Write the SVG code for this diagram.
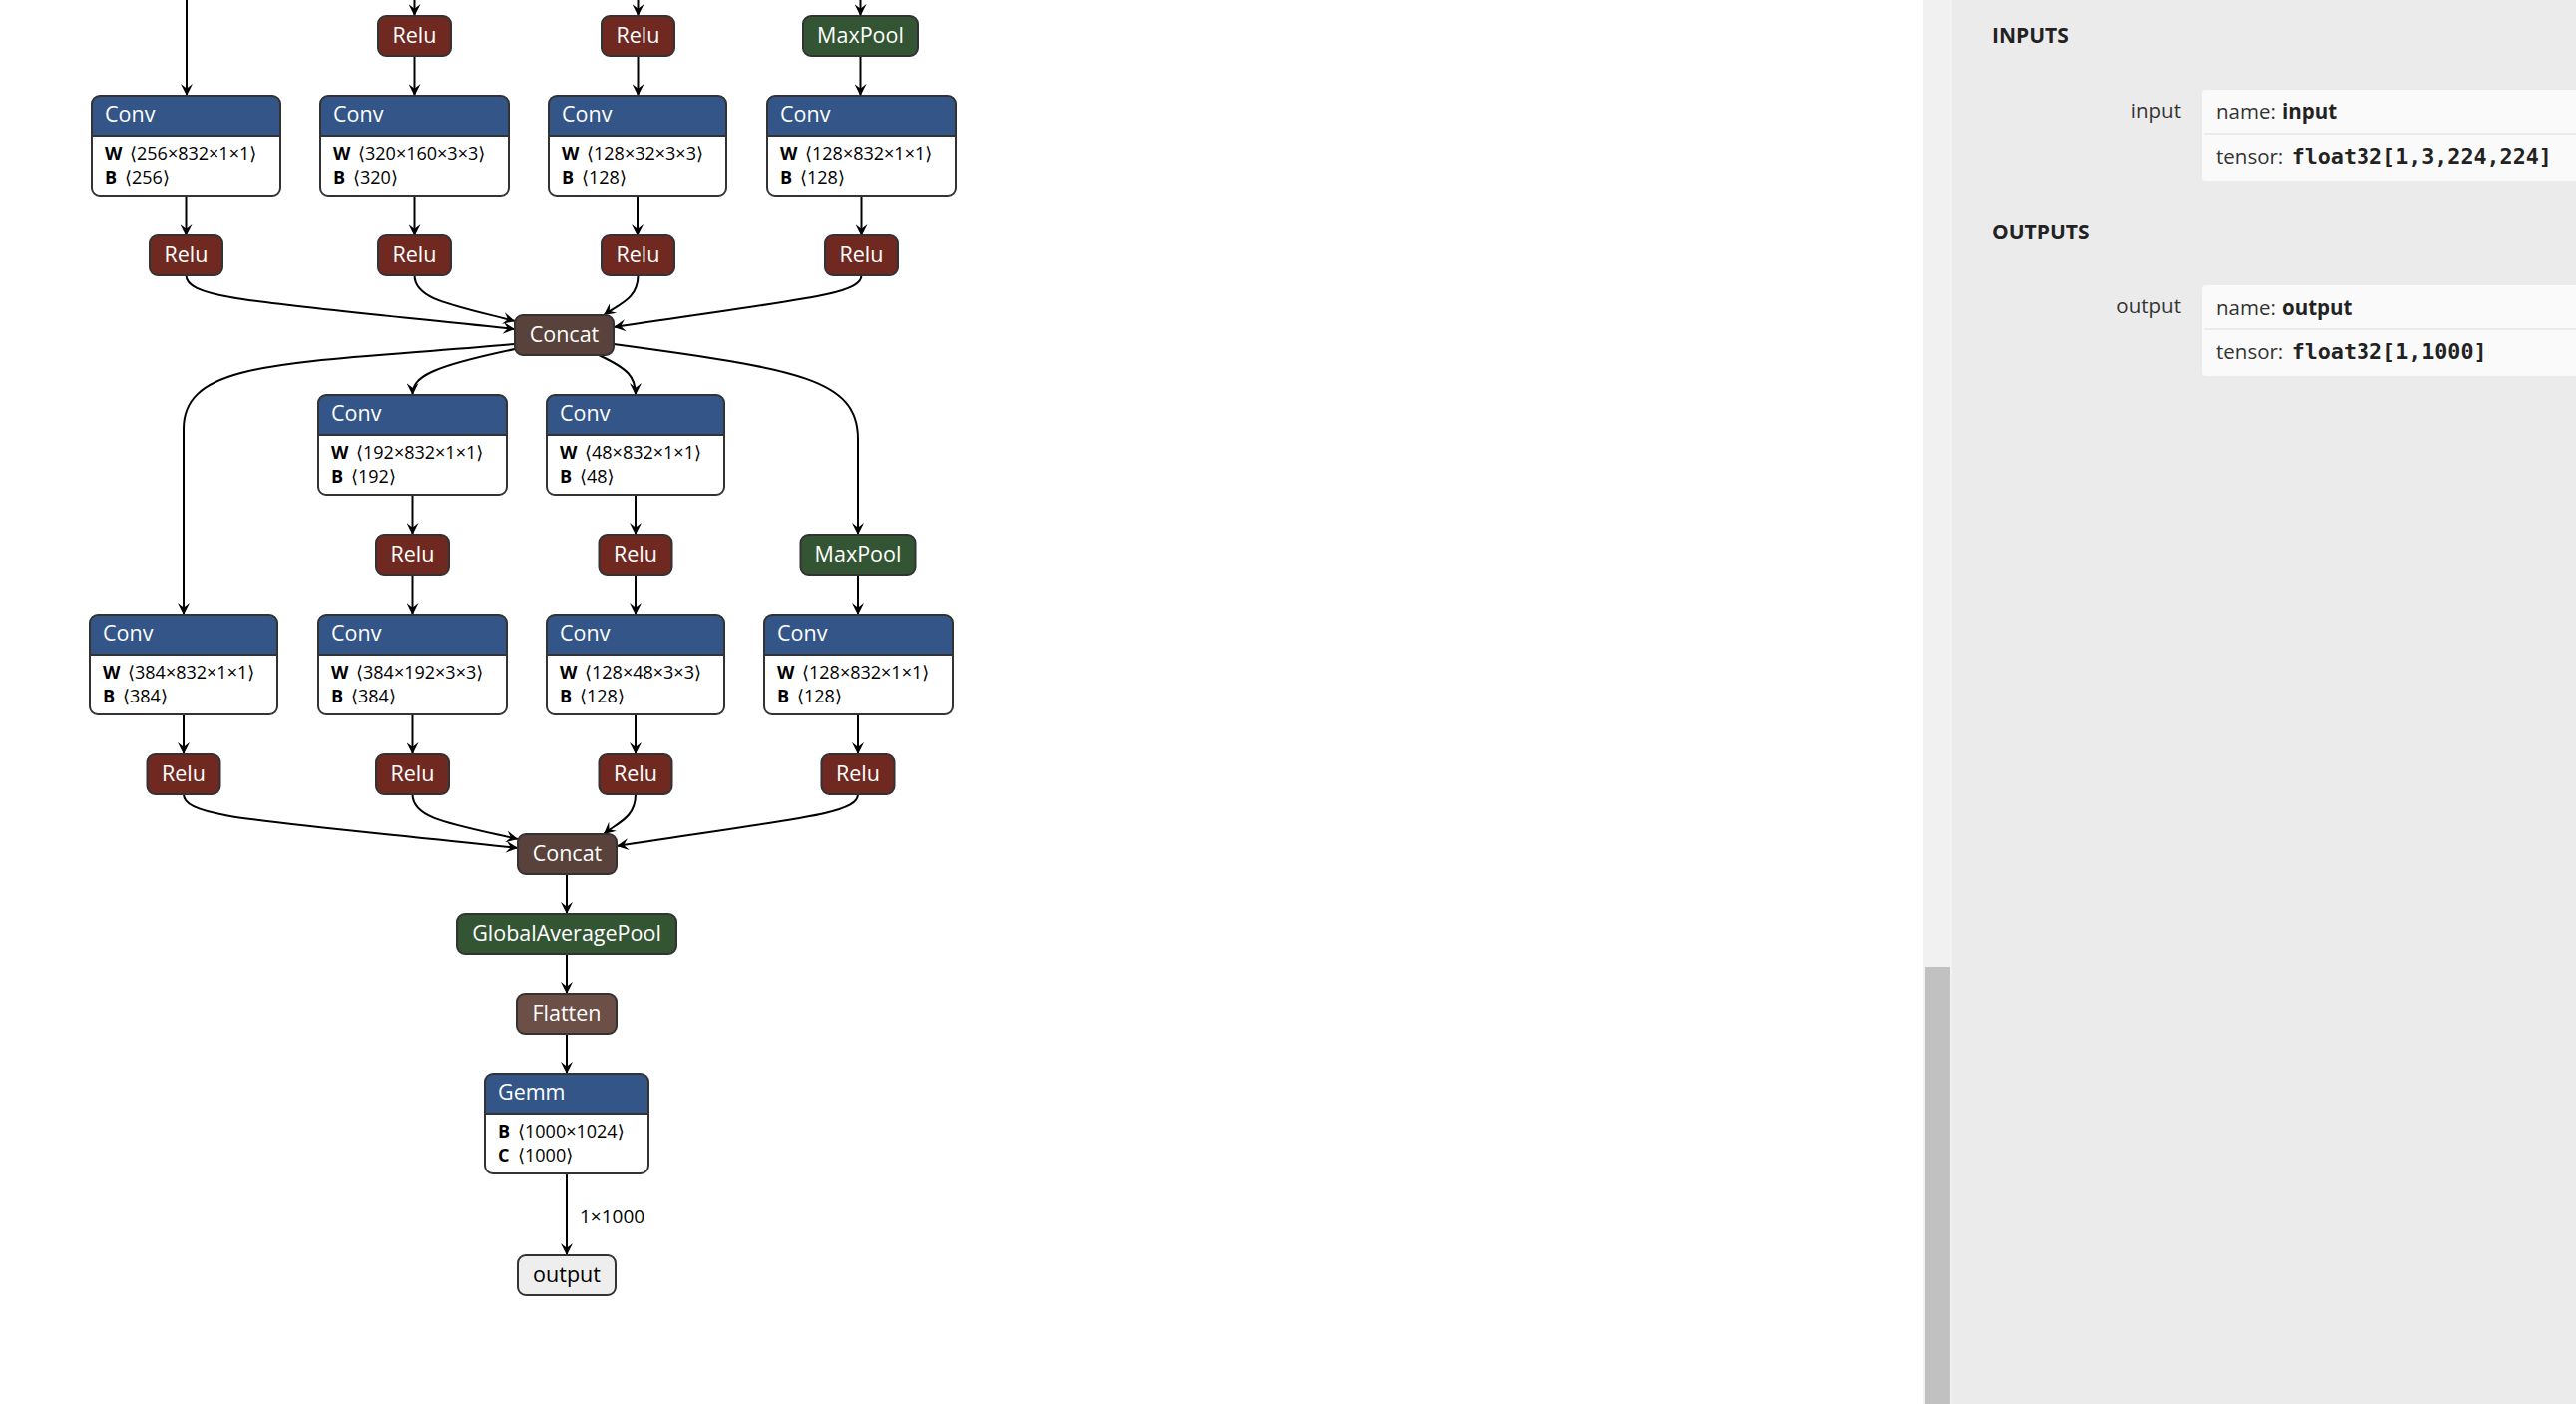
<svg xmlns="http://www.w3.org/2000/svg" width="2582" height="1407" viewBox="0 0 2582 1407">
<defs>
<style>
  .edge{fill:none;stroke:#000;stroke-width:2;marker-end:url(#arrow)}
  .border{fill:none;stroke:#333;stroke-width:2}
  .name{font-family:"Open Sans","DejaVu Sans",sans-serif;font-size:21.5px;fill:#fff}
  .center{text-anchor:middle}
  .attr{font-family:"Open Sans","DejaVu Sans",sans-serif;font-size:18px;fill:#000}
  .key{font-weight:bold}
  .layer{fill:#335588}
  .act{fill:#702921}
  .pool{fill:#335533}
  .tensor{fill:#59423b}
  .shape{fill:#6c4f47}
  .body{fill:#fff}
  .label{font-family:"Open Sans","DejaVu Sans",sans-serif;font-size:19px;fill:#000}
  .side{font-family:"Open Sans","DejaVu Sans",sans-serif;font-size:20.5px;fill:#333}
  .head{font-family:"Open Sans","DejaVu Sans",sans-serif;font-size:21px;font-weight:bold;fill:#222}
  .mono{font-family:"DejaVu Sans Mono","Liberation Mono",monospace;font-weight:bold;font-size:21.7px;fill:#222}
  .card{fill:#fafafa}
</style>
<marker id="arrow" viewBox="0 0 10 10" refX="10" refY="5" markerWidth="12" markerHeight="12" markerUnits="userSpaceOnUse" orient="auto">
  <path d="M0,0 L10,5 L0,10 L4,5 z" fill="#000"/>
</marker>
</defs>

<rect x="0" y="0" width="2582" height="1407" fill="#fff"/>

<!-- connectors -->
<g id="edges">
  <path class="edge" d="M187,0 V96"/>
  <path class="edge" d="M415.5,0 V16"/>
  <path class="edge" d="M639.5,0 V16"/>
  <path class="edge" d="M862.5,0 V16"/>
  <path class="edge" d="M415.5,56 V96"/>
  <path class="edge" d="M639.5,56 V96"/>
  <path class="edge" d="M862.5,56 V96"/>
  <path class="edge" d="M186.5,196 V236"/>
  <path class="edge" d="M415.5,196 V236"/>
  <path class="edge" d="M639,196 V236"/>
  <path class="edge" d="M863.5,196 V236"/>
  <path class="edge" d="M186.5,276 C186.5,300 260,303 516,330"/>
  <path class="edge" d="M415.5,276 C415.5,300 450,305 516,322"/>
  <path class="edge" d="M639.5,276 C639.5,300 620,305 605,316"/>
  <path class="edge" d="M863.5,276 C863.5,296 800,300 615,328"/>
  <path class="edge" d="M516,345 C290,365 184,360 184,430 L184,616"/>
  <path class="edge" d="M516,350 C430,368 413.5,378 413.5,396"/>
  <path class="edge" d="M600,356 C630,370 637,378 637,396"/>
  <path class="edge" d="M615,345 C800,370 860,380 860,440 L860,536"/>
  <path class="edge" d="M413.5,496 V536"/>
  <path class="edge" d="M637,496 V536"/>
  <path class="edge" d="M413.5,576 V616"/>
  <path class="edge" d="M637,576 V616"/>
  <path class="edge" d="M860,576 V616"/>
  <path class="edge" d="M184,716 V756"/>
  <path class="edge" d="M413.5,716 V756"/>
  <path class="edge" d="M637,716 V756"/>
  <path class="edge" d="M860,716 V756"/>
  <path class="edge" d="M184,796 C184,820 260,822 519,850"/>
  <path class="edge" d="M413.5,796 C413.5,820 448,825 519,841"/>
  <path class="edge" d="M637,796 C637,820 618,825 605,836"/>
  <path class="edge" d="M860,796 C860,816 800,820 618,848"/>
  <path class="edge" d="M568,876 V916"/>
  <path class="edge" d="M568,956 V996"/>
  <path class="edge" d="M568,1036 V1076"/>
  <path class="edge" d="M568,1176 V1258"/>
  <text class="label" x="581" y="1226">1×1000</text>
</g>

<!-- top row -->
<g id="relu_1" transform="translate(379,16)">
  <rect class="act" width="73" height="40" rx="8"/><rect class="border" width="73" height="40" rx="8"/>
  <text class="name center" x="36.5" y="27">Relu</text>
</g>
<g id="relu_2" transform="translate(603,16)">
  <rect class="act" width="73" height="40" rx="8"/><rect class="border" width="73" height="40" rx="8"/>
  <text class="name center" x="36.5" y="27">Relu</text>
</g>
<g id="maxpool_1" transform="translate(805,16)">
  <rect class="pool" width="115" height="40" rx="8"/><rect class="border" width="115" height="40" rx="8"/>
  <text class="name center" x="57.5" y="27">MaxPool</text>
</g>

<g id="conv_1" transform="translate(92,96)">
  <rect class="body" width="189" height="100" rx="8"/>
  <path class="layer" d="M0,40 V8 Q0,0 8,0 H181 Q189,0 189,8 V40 Z"/>
  <line x1="0" y1="40" x2="189" y2="40" stroke="#333" stroke-width="2"/>
  <rect class="border" width="189" height="100" rx="8"/>
  <text class="name" x="13" y="26">Conv</text>
  <text class="attr" x="13" y="64"><tspan class="key">W</tspan><tspan x="38">⟨256×832×1×1⟩</tspan></text>
  <text class="attr" x="13" y="88"><tspan class="key">B</tspan><tspan x="33">⟨256⟩</tspan></text>
</g>
<g id="conv_2" transform="translate(321,96)">
  <rect class="body" width="189" height="100" rx="8"/>
  <path class="layer" d="M0,40 V8 Q0,0 8,0 H181 Q189,0 189,8 V40 Z"/>
  <line x1="0" y1="40" x2="189" y2="40" stroke="#333" stroke-width="2"/>
  <rect class="border" width="189" height="100" rx="8"/>
  <text class="name" x="13" y="26">Conv</text>
  <text class="attr" x="13" y="64"><tspan class="key">W</tspan><tspan x="38">⟨320×160×3×3⟩</tspan></text>
  <text class="attr" x="13" y="88"><tspan class="key">B</tspan><tspan x="33">⟨320⟩</tspan></text>
</g>
<g id="conv_3" transform="translate(550,96)">
  <rect class="body" width="178" height="100" rx="8"/>
  <path class="layer" d="M0,40 V8 Q0,0 8,0 H170 Q178,0 178,8 V40 Z"/>
  <line x1="0" y1="40" x2="178" y2="40" stroke="#333" stroke-width="2"/>
  <rect class="border" width="178" height="100" rx="8"/>
  <text class="name" x="13" y="26">Conv</text>
  <text class="attr" x="13" y="64"><tspan class="key">W</tspan><tspan x="38">⟨128×32×3×3⟩</tspan></text>
  <text class="attr" x="13" y="88"><tspan class="key">B</tspan><tspan x="33">⟨128⟩</tspan></text>
</g>
<g id="conv_4" transform="translate(769,96)">
  <rect class="body" width="189" height="100" rx="8"/>
  <path class="layer" d="M0,40 V8 Q0,0 8,0 H181 Q189,0 189,8 V40 Z"/>
  <line x1="0" y1="40" x2="189" y2="40" stroke="#333" stroke-width="2"/>
  <rect class="border" width="189" height="100" rx="8"/>
  <text class="name" x="13" y="26">Conv</text>
  <text class="attr" x="13" y="64"><tspan class="key">W</tspan><tspan x="38">⟨128×832×1×1⟩</tspan></text>
  <text class="attr" x="13" y="88"><tspan class="key">B</tspan><tspan x="33">⟨128⟩</tspan></text>
</g>

<g id="relu_3" transform="translate(150,236)">
  <rect class="act" width="73" height="40" rx="8"/><rect class="border" width="73" height="40" rx="8"/>
  <text class="name center" x="36.5" y="27">Relu</text>
</g>
<g id="relu_4" transform="translate(379,236)">
  <rect class="act" width="73" height="40" rx="8"/><rect class="border" width="73" height="40" rx="8"/>
  <text class="name center" x="36.5" y="27">Relu</text>
</g>
<g id="relu_5" transform="translate(603,236)">
  <rect class="act" width="73" height="40" rx="8"/><rect class="border" width="73" height="40" rx="8"/>
  <text class="name center" x="36.5" y="27">Relu</text>
</g>
<g id="relu_6" transform="translate(827,236)">
  <rect class="act" width="73" height="40" rx="8"/><rect class="border" width="73" height="40" rx="8"/>
  <text class="name center" x="36.5" y="27">Relu</text>
</g>

<g id="concat_1" transform="translate(516,316)">
  <rect class="tensor" width="99" height="40" rx="8"/><rect class="border" width="99" height="40" rx="8"/>
  <text class="name center" x="49.5" y="27">Concat</text>
</g>

<!-- middle block -->
<g id="conv_5" transform="translate(319,396)">
  <rect class="body" width="189" height="100" rx="8"/>
  <path class="layer" d="M0,40 V8 Q0,0 8,0 H181 Q189,0 189,8 V40 Z"/>
  <line x1="0" y1="40" x2="189" y2="40" stroke="#333" stroke-width="2"/>
  <rect class="border" width="189" height="100" rx="8"/>
  <text class="name" x="13" y="26">Conv</text>
  <text class="attr" x="13" y="64"><tspan class="key">W</tspan><tspan x="38">⟨192×832×1×1⟩</tspan></text>
  <text class="attr" x="13" y="88"><tspan class="key">B</tspan><tspan x="33">⟨192⟩</tspan></text>
</g>
<g id="conv_6" transform="translate(548,396)">
  <rect class="body" width="178" height="100" rx="8"/>
  <path class="layer" d="M0,40 V8 Q0,0 8,0 H170 Q178,0 178,8 V40 Z"/>
  <line x1="0" y1="40" x2="178" y2="40" stroke="#333" stroke-width="2"/>
  <rect class="border" width="178" height="100" rx="8"/>
  <text class="name" x="13" y="26">Conv</text>
  <text class="attr" x="13" y="64"><tspan class="key">W</tspan><tspan x="38">⟨48×832×1×1⟩</tspan></text>
  <text class="attr" x="13" y="88"><tspan class="key">B</tspan><tspan x="33">⟨48⟩</tspan></text>
</g>
<g id="relu_7" transform="translate(377,536)">
  <rect class="act" width="73" height="40" rx="8"/><rect class="border" width="73" height="40" rx="8"/>
  <text class="name center" x="36.5" y="27">Relu</text>
</g>
<g id="relu_8" transform="translate(600.5,536)">
  <rect class="act" width="73" height="40" rx="8"/><rect class="border" width="73" height="40" rx="8"/>
  <text class="name center" x="36.5" y="27">Relu</text>
</g>
<g id="maxpool_2" transform="translate(802.5,536)">
  <rect class="pool" width="115" height="40" rx="8"/><rect class="border" width="115" height="40" rx="8"/>
  <text class="name center" x="57.5" y="27">MaxPool</text>
</g>

<g id="conv_7" transform="translate(90,616)">
  <rect class="body" width="188" height="100" rx="8"/>
  <path class="layer" d="M0,40 V8 Q0,0 8,0 H180 Q188,0 188,8 V40 Z"/>
  <line x1="0" y1="40" x2="188" y2="40" stroke="#333" stroke-width="2"/>
  <rect class="border" width="188" height="100" rx="8"/>
  <text class="name" x="13" y="26">Conv</text>
  <text class="attr" x="13" y="64"><tspan class="key">W</tspan><tspan x="38">⟨384×832×1×1⟩</tspan></text>
  <text class="attr" x="13" y="88"><tspan class="key">B</tspan><tspan x="33">⟨384⟩</tspan></text>
</g>
<g id="conv_8" transform="translate(319,616)">
  <rect class="body" width="189" height="100" rx="8"/>
  <path class="layer" d="M0,40 V8 Q0,0 8,0 H181 Q189,0 189,8 V40 Z"/>
  <line x1="0" y1="40" x2="189" y2="40" stroke="#333" stroke-width="2"/>
  <rect class="border" width="189" height="100" rx="8"/>
  <text class="name" x="13" y="26">Conv</text>
  <text class="attr" x="13" y="64"><tspan class="key">W</tspan><tspan x="38">⟨384×192×3×3⟩</tspan></text>
  <text class="attr" x="13" y="88"><tspan class="key">B</tspan><tspan x="33">⟨384⟩</tspan></text>
</g>
<g id="conv_9" transform="translate(548,616)">
  <rect class="body" width="178" height="100" rx="8"/>
  <path class="layer" d="M0,40 V8 Q0,0 8,0 H170 Q178,0 178,8 V40 Z"/>
  <line x1="0" y1="40" x2="178" y2="40" stroke="#333" stroke-width="2"/>
  <rect class="border" width="178" height="100" rx="8"/>
  <text class="name" x="13" y="26">Conv</text>
  <text class="attr" x="13" y="64"><tspan class="key">W</tspan><tspan x="38">⟨128×48×3×3⟩</tspan></text>
  <text class="attr" x="13" y="88"><tspan class="key">B</tspan><tspan x="33">⟨128⟩</tspan></text>
</g>
<g id="conv_10" transform="translate(766,616)">
  <rect class="body" width="189" height="100" rx="8"/>
  <path class="layer" d="M0,40 V8 Q0,0 8,0 H181 Q189,0 189,8 V40 Z"/>
  <line x1="0" y1="40" x2="189" y2="40" stroke="#333" stroke-width="2"/>
  <rect class="border" width="189" height="100" rx="8"/>
  <text class="name" x="13" y="26">Conv</text>
  <text class="attr" x="13" y="64"><tspan class="key">W</tspan><tspan x="38">⟨128×832×1×1⟩</tspan></text>
  <text class="attr" x="13" y="88"><tspan class="key">B</tspan><tspan x="33">⟨128⟩</tspan></text>
</g>

<g id="relu_9" transform="translate(147.5,756)">
  <rect class="act" width="73" height="40" rx="8"/><rect class="border" width="73" height="40" rx="8"/>
  <text class="name center" x="36.5" y="27">Relu</text>
</g>
<g id="relu_10" transform="translate(377,756)">
  <rect class="act" width="73" height="40" rx="8"/><rect class="border" width="73" height="40" rx="8"/>
  <text class="name center" x="36.5" y="27">Relu</text>
</g>
<g id="relu_11" transform="translate(600.5,756)">
  <rect class="act" width="73" height="40" rx="8"/><rect class="border" width="73" height="40" rx="8"/>
  <text class="name center" x="36.5" y="27">Relu</text>
</g>
<g id="relu_12" transform="translate(823.5,756)">
  <rect class="act" width="73" height="40" rx="8"/><rect class="border" width="73" height="40" rx="8"/>
  <text class="name center" x="36.5" y="27">Relu</text>
</g>

<!-- head -->
<g id="concat_2" transform="translate(519,836)">
  <rect class="tensor" width="99" height="40" rx="8"/><rect class="border" width="99" height="40" rx="8"/>
  <text class="name center" x="49.5" y="27">Concat</text>
</g>
<g id="global_average_pool" transform="translate(458,916)">
  <rect class="pool" width="220" height="40" rx="8"/><rect class="border" width="220" height="40" rx="8"/>
  <text class="name center" x="110" y="27">GlobalAveragePool</text>
</g>
<g id="flatten" transform="translate(518,996)">
  <rect class="shape" width="100" height="40" rx="8"/><rect class="border" width="100" height="40" rx="8"/>
  <text class="name center" x="50" y="27">Flatten</text>
</g>
<g id="gemm" transform="translate(486,1076)">
  <rect class="body" width="164" height="100" rx="8"/>
  <path class="layer" d="M0,40 V8 Q0,0 8,0 H156 Q164,0 164,8 V40 Z"/>
  <line x1="0" y1="40" x2="164" y2="40" stroke="#333" stroke-width="2"/>
  <rect class="border" width="164" height="100" rx="8"/>
  <text class="name" x="13" y="26">Gemm</text>
  <text class="attr" x="13" y="64"><tspan class="key">B</tspan><tspan x="33">⟨1000×1024⟩</tspan></text>
  <text class="attr" x="13" y="88"><tspan class="key">C</tspan><tspan x="33">⟨1000⟩</tspan></text>
</g>
<g id="output" transform="translate(519,1258)">
  <rect width="98" height="40" rx="8" fill="#eee"/><rect class="border" width="98" height="40" rx="8"/>
  <text class="name center" x="49" y="27" style="fill:#000">output</text>
</g>

<!-- properties sidebar -->
<g id="sidebar">
  <rect x="1927" y="0" width="30" height="1407" fill="#f1f1f1"/>
  <rect x="1929" y="969" width="26" height="438" fill="#c1c1c1"/>
  <rect x="1957" y="0" width="625" height="1407" fill="#ebebeb"/>

  <text class="head" x="1997" y="43">INPUTS</text>
  <text class="side" x="2186" y="118" text-anchor="end">input</text>
  <rect class="card" x="2207" y="90" width="385" height="91" rx="4"/>
  <rect x="2209" y="133" width="373" height="2" fill="#ebebeb"/>
  <text class="side" x="2221" y="119">name: <tspan x="2287" font-weight="bold" fill="#222">input</tspan></text>
  <text class="side" x="2221" y="164">tensor: <tspan class="mono" x="2296.7">float32[1,3,224,224]</tspan></text>

  <text class="head" x="1997" y="240">OUTPUTS</text>
  <text class="side" x="2186" y="314" text-anchor="end">output</text>
  <rect class="card" x="2207" y="286" width="385" height="91" rx="4"/>
  <rect x="2209" y="329" width="373" height="2" fill="#ebebeb"/>
  <text class="side" x="2221" y="316">name: <tspan x="2287" font-weight="bold" fill="#222">output</tspan></text>
  <text class="side" x="2221" y="360">tensor: <tspan class="mono" x="2296.7">float32[1,1000]</tspan></text>
</g>
</svg>
